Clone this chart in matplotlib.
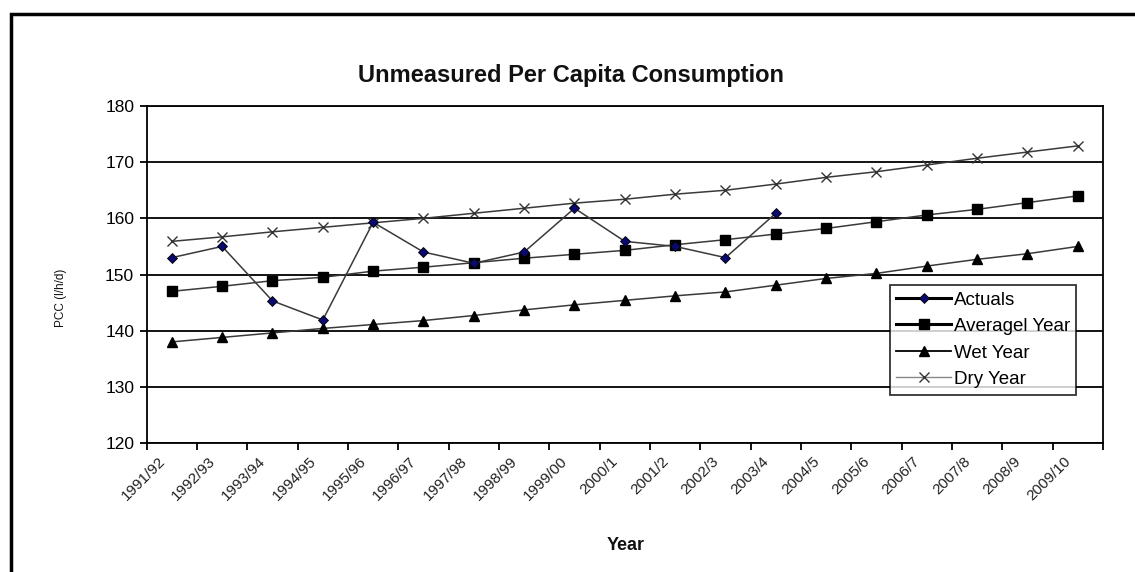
import numpy as np
import matplotlib
matplotlib.use('Agg')
import matplotlib.pyplot as plt
import matplotlib.transforms as mtransforms
from matplotlib.patches import Rectangle

plt.rcParams['font.family'] = ['Liberation Sans', 'DejaVu Sans']

# --- Data ---
years = ['1991/92', '1992/93', '1993/94', '1994/95', '1995/96', '1996/97',
         '1997/98', '1998/99', '1999/00', '2000/1', '2001/2', '2002/3',
         '2003/4', '2004/5', '2005/6', '2006/7', '2007/8', '2008/9', '2009/10']

actuals = [153.0, 155.0, 145.3, 141.9, 159.3, 154.0, 152.0, 154.0,
           161.8, 155.9, 155.0, 153.0, 160.9]
average_year = [147.0, 147.9, 148.9, 149.5, 150.6, 151.3, 152.1, 152.9,
                153.6, 154.3, 155.3, 156.2, 157.2, 158.2, 159.4, 160.6,
                161.6, 162.8, 164.0]
wet_year = [138.0, 138.8, 139.6, 140.4, 141.1, 141.8, 142.7, 143.7,
            144.6, 145.4, 146.2, 146.9, 148.1, 149.3, 150.2, 151.5,
            152.7, 153.7, 155.0]
dry_year = [155.9, 156.7, 157.6, 158.4, 159.2, 160.0, 160.9, 161.8,
            162.7, 163.4, 164.3, 165.0, 166.1, 167.3, 168.3, 169.5,
            170.7, 171.8, 172.9]

x = np.arange(len(years))

fig = plt.figure(figsize=(11.35, 5.72), dpi=100)
ax = fig.add_axes([0.1292, 0.2255, 0.8426, 0.5892])

line_col = '#3a3a3a'
l_act, = ax.plot(x[:len(actuals)], actuals, color=line_col, lw=1.1,
                 marker='D', ms=5.5, mfc='#0a0a6e', mec='black', mew=0.6,
                 label='Actuals', zorder=5)
l_avg, = ax.plot(x, average_year, color=line_col, lw=1.1, marker='s',
                 ms=7.5, mfc='black', mec='black', label='Averagel Year',
                 zorder=4)
l_wet, = ax.plot(x, wet_year, color=line_col, lw=1.1, marker='^', ms=7.5,
                 mfc='black', mec='black', label='Wet Year', zorder=4)
l_dry, = ax.plot(x, dry_year, color=line_col, lw=1.1, marker='x', ms=7.5,
                 mec='#333333', mew=1.0, label='Dry Year', zorder=4)

ax.set_xlim(-0.5, len(years) - 0.5)
ax.set_ylim(120, 180)
ax.set_yticks(np.arange(120, 181, 10))
ax.yaxis.grid(True, color='black', lw=1.3)
ax.set_axisbelow(True)

# category axis: ticks on boundaries, labels at centres
ax.set_xticks(np.arange(-0.5, len(years), 1.0))
ax.set_xticklabels([])
ax.set_xticks(x, minor=True)
ax.set_xticklabels(years, minor=True, rotation=45, ha='right',
                   rotation_mode='anchor', fontsize=11, color='#222222')
ax.tick_params(axis='x', which='minor', length=0, pad=8)
ax.tick_params(axis='x', which='major', length=5, width=1.3, direction='out')
ax.tick_params(axis='y', length=5, width=1.3, direction='out', labelsize=12.5,
               pad=4)
offset = mtransforms.ScaledTranslation(-14 / 100, 0, fig.dpi_scale_trans)
for lab in ax.get_xticklabels(minor=True):
    lab.set_transform(lab.get_transform() + offset)

for sp in ax.spines.values():
    sp.set_linewidth(1.3)
    sp.set_color('black')

fig.text(0.503, 0.868, 'Unmeasured Per Capita Consumption', ha='center',
         va='center', fontsize=17, fontweight='bold', color='#111111')
fig.text(0.0535, 0.48, 'PCC (l/h/d)', rotation=90, ha='center', va='center',
         fontsize=8.5, color='#111111')
fig.text(0.551, 0.047, 'Year', ha='center', va='center', fontsize=13,
         fontweight='bold', color='#111111')

leg = ax.legend(handles=[l_act, l_avg, l_wet, l_dry], loc='upper left',
                bbox_to_anchor=(0.784, 0.502), bbox_transform=fig.transFigure,
                fontsize=13.5, frameon=True, fancybox=False, edgecolor='black',
                borderpad=0.35, labelspacing=0.5, handlelength=2.9,
                handletextpad=0.15, borderaxespad=0)
leg.get_frame().set_linewidth(1.3)
leg_lines = leg.get_lines()
leg_lines[0].set_linewidth(2.2)
leg_lines[0].set_color('black')
leg_lines[1].set_linewidth(2.2)
leg_lines[1].set_color('black')
leg_lines[2].set_linewidth(1.3)
leg_lines[2].set_color('black')
leg_lines[3].set_linewidth(1.0)
leg_lines[3].set_color('#888888')

# outer chart border
fig.patches.append(Rectangle((0.0097, -0.1), 1.2, 1.0755,
                             transform=fig.transFigure, fill=False,
                             edgecolor='black', lw=2.5))

fig.savefig('out.png', dpi=100)
